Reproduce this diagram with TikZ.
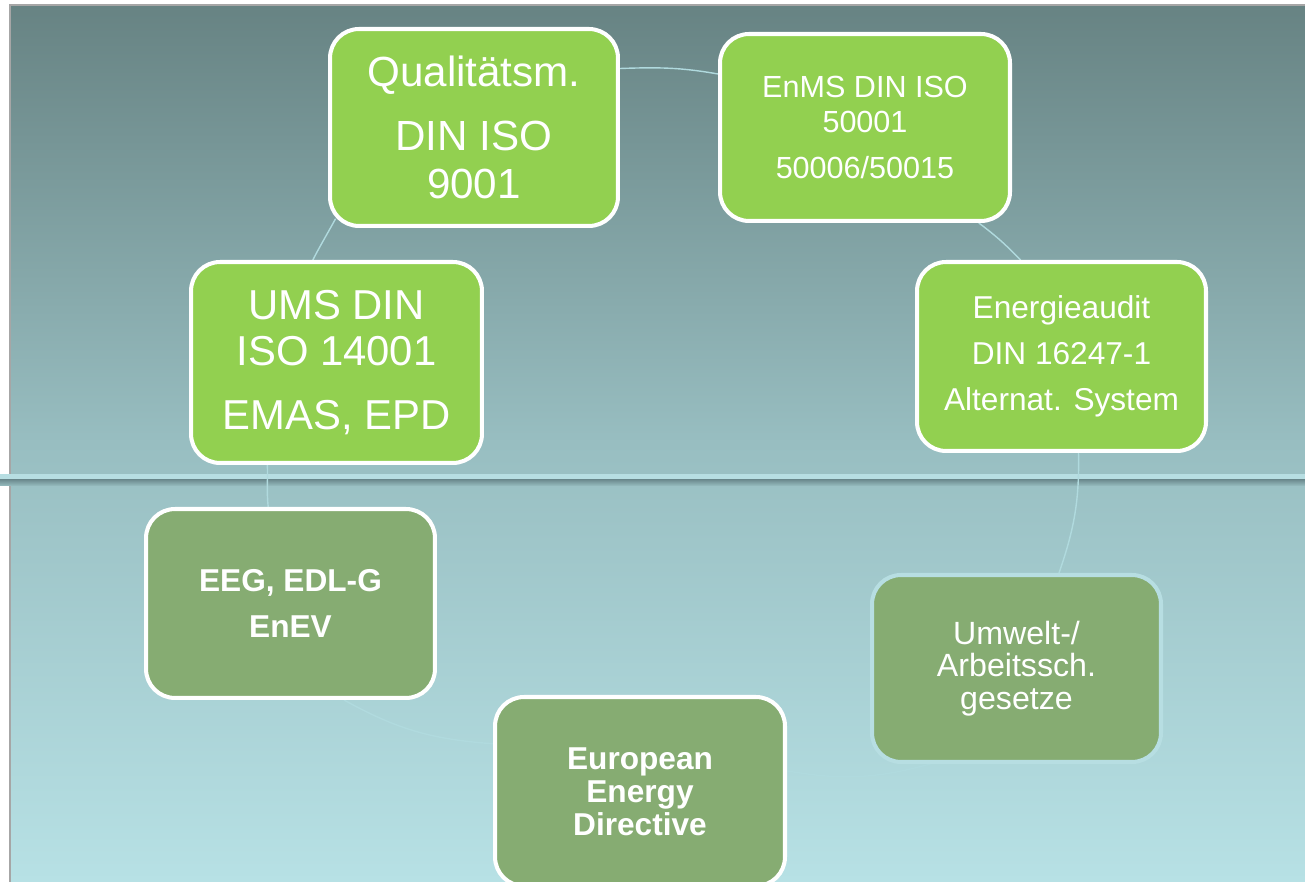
\documentclass[tikz,border=0pt]{standalone}
\usepackage{fontspec}
\setmainfont{Liberation Sans}
\usetikzlibrary{backgrounds}

\definecolor{slidetop}{RGB}{103,131,131}
\definecolor{slidemid}{RGB}{152,190,193}
\definecolor{slidebot}{RGB}{183,225,229}
\definecolor{barcol}{RGB}{183,222,226}
\definecolor{barshadow}{RGB}{104,134,138}
\definecolor{lightgreen}{RGB}{146,208,80}
\definecolor{darkgreen}{RGB}{134,172,114}
\definecolor{ringcol}{RGB}{176,218,222}

\begin{document}
\begin{tikzpicture}[x=0.02cm, y=0.02cm,
  box/.style={rectangle, rounded corners=0.58cm, draw=white, line width=2.3pt,
    text=white, align=center, inner sep=0pt, minimum width=5.78cm, minimum height=3.78cm},
  normbox/.style={box, fill=lightgreen},
  lawbox/.style={box, fill=darkgreen, font=\fontsize{18}{26.7}\selectfont\bfseries},
  ring/.style={draw=ringcol, line width=0.8pt}]

\useasboundingbox (0,0) rectangle (1305,882);

% Slide background
\begin{scope}[on background layer]
\fill[white] (0,0) rectangle (1305,882);
\shade[top color=slidetop, bottom color=slidebot, middle color=slidemid] (10,0) rectangle (1305,877);
\draw[gray!70, line width=0.8pt] (10,0) -- (10,877) -- (1305,877);
\shade[top color=barshadow, bottom color=slidemid] (0,396) rectangle (1305,403); % shadow under bar
\fill[barcol] (0,403) rectangle (1305,408); % divider bar
\end{scope}

% Standards (top half)
\node[normbox, minimum width=5.76cm, minimum height=3.94cm, font=\fontsize{24}{27.3}\selectfont]
  (qm) at (474,754.5) {Qualitätsm.\\[9pt]DIN ISO\\9001};
\node[normbox, minimum width=5.8cm, minimum height=3.74cm, font=\fontsize{17.4}{19.4}\selectfont]
  (enms) at (865,754.5) {EnMS DIN ISO\\50001\\[6.8pt]50006/50015};
\node[normbox, font=\fontsize{18}{26.2}\selectfont]
  (audit) at (1061.5,525.5) {Energieaudit\\DIN 16247-1\\Alternat. System};
\node[normbox, minimum width=5.82cm, minimum height=4.02cm, font=\fontsize{23.8}{26.2}\selectfont]
  (ums) at (336.5,519.5) {UMS DIN\\ISO 14001\\[10.2pt]EMAS, EPD};

% Laws (bottom half)
\node[lawbox] (eeg) at (290.5,278.5) {EEG, EDL-G\\EnEV};
\node[box, fill=darkgreen, draw=barcol, minimum height=3.74cm, font=\fontsize{18.3}{18.5}\selectfont]
  (gesetze) at (1016.5,213.5) {Umwelt-/\\Arbeitssch.\\gesetze};
\node[lawbox, minimum width=5.8cm, font=\fontsize{18}{18.8}\selectfont\bfseries]
  (directive) at (640,90.5) {European\\Energy\\Directive};

% Cycle arcs
\begin{scope}[on background layer]
\draw[ring] (qm.22) to[out=2, in=170] (enms.160);
\draw[ring] (enms.-40) to[out=-37, in=134] (audit.113);
\draw[ring] (audit.-80) to[out=-89, in=71] (gesetze.66);
\draw[ring] (gesetze.-132) to[out=195, in=-10] (directive.8);
\draw[ring] (directive.162) to[out=176, in=-29] (eeg.-61);
\draw[ring] (eeg.103) to[out=96, in=-88] (ums.-124);
\draw[ring, shorten >=-6pt] (ums.103) to[out=63, in=-119] (qm.-145);
\end{scope}

\end{tikzpicture}
\end{document}
